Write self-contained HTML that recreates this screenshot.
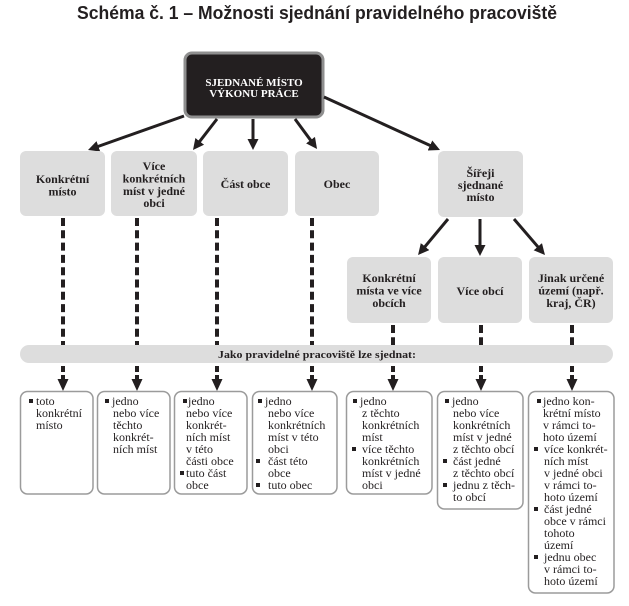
<!DOCTYPE html>
<html><head><meta charset="utf-8"><style>
html,body{margin:0;padding:0;background:#fff;}
svg{display:block;}
.t{font-family:"Liberation Serif",serif;fill:#231f20;}
.b{font-weight:bold;font-size:12px;text-anchor:middle;}
.r{font-size:12px;}
</style></head><body>
<svg width="629" height="606" viewBox="0 0 629 606" xmlns="http://www.w3.org/2000/svg">
<defs>
<marker id="ah" markerUnits="userSpaceOnUse" markerWidth="12" markerHeight="12" refX="2" refY="5.5" orient="auto">
<path d="M0,0 L11,5.5 L0,11 z" fill="#231f20"/>
</marker>
</defs>
<rect width="629" height="606" fill="#fff"/>
<text x="317" y="19" font-family="'Liberation Sans',sans-serif" font-weight="bold" font-size="18" text-anchor="middle" fill="#231f20" textLength="480" lengthAdjust="spacingAndGlyphs">Schéma č. 1 – Možnosti sjednání pravidelného pracoviště</text>

<!-- top box -->
<rect x="185" y="53" width="138" height="64" rx="7" fill="#231f20" stroke="#8f8f8f" stroke-width="3"/>
<text class="t" x="254" y="86" font-size="11" font-weight="bold" text-anchor="middle" fill="#fff" style="fill:#fff">SJEDNANÉ MÍSTO</text>
<text class="t" x="254" y="97" font-size="11" font-weight="bold" text-anchor="middle" style="fill:#fff">VÝKONU PRÁCE</text>

<!-- solid arrows -->
<g stroke="#231f20" stroke-width="3" marker-end="url(#ah)">
<line x1="184" y1="116" x2="96.5" y2="147"/>
<line x1="217" y1="119" x2="198.5" y2="142.9"/>
<line x1="253" y1="119" x2="253" y2="141"/>
<line x1="295" y1="119" x2="311.7" y2="141.7"/>
<line x1="324" y1="97" x2="431.8" y2="146.3"/>
<line x1="448" y1="219" x2="423.8" y2="248.1"/>
<line x1="480" y1="219" x2="480" y2="247"/>
<line x1="514" y1="219" x2="539.1" y2="248.2"/>
</g>

<!-- first row boxes -->
<g fill="#dddddd">
<rect x="20" y="151" width="85" height="65" rx="6"/>
<rect x="111" y="151" width="86" height="65" rx="6"/>
<rect x="203" y="151" width="85" height="65" rx="6"/>
<rect x="295" y="151" width="84" height="65" rx="6"/>
<rect x="438" y="151" width="85" height="66" rx="6"/>
<rect x="347" y="257" width="84" height="66" rx="6"/>
<rect x="438" y="257" width="84" height="66" rx="6"/>
<rect x="529" y="257" width="84" height="66" rx="6"/>
<rect x="20" y="345" width="593" height="18" rx="9"/>
</g>
<text class="t b" x="62.5" y="183">Konkrétní</text>
<text class="t b" x="62.5" y="195.5">místo</text>
<text class="t b" x="154" y="170">Více</text>
<text class="t b" x="154" y="182.5">konkrétních</text>
<text class="t b" x="154" y="195">míst v jedné</text>
<text class="t b" x="154" y="207">obci</text>
<text class="t b" x="245.5" y="188">Část obce</text>
<text class="t b" x="337" y="188">Obec</text>
<text class="t b" x="480.5" y="177">Šířeji</text>
<text class="t b" x="480.5" y="189">sjednané</text>
<text class="t b" x="480.5" y="201">místo</text>
<text class="t b" x="389" y="282">Konkrétní</text>
<text class="t b" x="389" y="294.5">místa ve více</text>
<text class="t b" x="389" y="307">obcích</text>
<text class="t b" x="480" y="295">Více obcí</text>
<text class="t b" x="571" y="282">Jinak určené</text>
<text class="t b" x="571" y="294.5">území (např.</text>
<text class="t b" x="571" y="307">kraj, ČR)</text>
<text class="t" x="317" y="358" font-size="11" font-weight="bold" text-anchor="middle" textLength="198" lengthAdjust="spacingAndGlyphs">Jako pravidelné pracoviště lze sjednat:</text>

<!-- dashed lines -->
<g stroke="#231f20" stroke-width="4" stroke-dasharray="8 4.3" fill="none">
<line x1="63" y1="218" x2="63" y2="345"/>
<line x1="137" y1="218" x2="137" y2="345"/>
<line x1="217" y1="218" x2="217" y2="345"/>
<line x1="312" y1="218" x2="312" y2="345"/>
<line x1="393" y1="325" x2="393" y2="345"/>
<line x1="481" y1="325" x2="481" y2="345"/>
<line x1="572" y1="325" x2="572" y2="345"/>
</g>
<g stroke="#231f20" stroke-width="4" stroke-dasharray="6 3" fill="none">
<line x1="63" y1="366" x2="63" y2="380"/>
<line x1="137" y1="366" x2="137" y2="380"/>
<line x1="217" y1="366" x2="217" y2="380"/>
<line x1="312" y1="366" x2="312" y2="380"/>
<line x1="393" y1="366" x2="393" y2="380"/>
<line x1="481" y1="366" x2="481" y2="380"/>
<line x1="572" y1="366" x2="572" y2="380"/>
</g>
<g fill="#231f20">
<polygon points="57.5,379 68.5,379 63,391"/>
<polygon points="131.5,379 142.5,379 137,391"/>
<polygon points="211.5,379 222.5,379 217,391"/>
<polygon points="306.5,379 317.5,379 312,391"/>
<polygon points="387.5,379 398.5,379 393,391"/>
<polygon points="475.5,379 486.5,379 481,391"/>
<polygon points="566.5,379 577.5,379 572,391"/>
</g>

<!-- bottom boxes -->
<g fill="#fff" stroke="#9b9b9b" stroke-width="1.5">
<rect x="20.5" y="391.5" width="72.5" height="102.5" rx="7"/>
<rect x="97.5" y="391.5" width="72.5" height="102.5" rx="7"/>
<rect x="174.5" y="391.5" width="72.5" height="102.5" rx="7"/>
<rect x="252.5" y="391.5" width="84.5" height="102.5" rx="7"/>
<rect x="346.5" y="391.5" width="85.5" height="102.5" rx="7"/>
<rect x="437.5" y="391.5" width="85.5" height="117.5" rx="7"/>
<rect x="528.5" y="391.5" width="85.5" height="201.5" rx="7"/>
</g>

<!-- bullets -->
<g fill="#231f20">
<rect x="29" y="399" width="4" height="4"/>
<rect x="105" y="399" width="4" height="4"/>
<rect x="183" y="399" width="4" height="4"/>
<rect x="180" y="471" width="4" height="4"/>
<rect x="258" y="399" width="4" height="4"/>
<rect x="256" y="459" width="4" height="4"/>
<rect x="256" y="483" width="4" height="4"/>
<rect x="353" y="399" width="4" height="4"/>
<rect x="352" y="447" width="4" height="4"/>
<rect x="445" y="399" width="4" height="4"/>
<rect x="443" y="459" width="4" height="4"/>
<rect x="443" y="483" width="4" height="4"/>
<rect x="537" y="399" width="4" height="4"/>
<rect x="534" y="447" width="4" height="4"/>
<rect x="534" y="507" width="4" height="4"/>
<rect x="534" y="555" width="4" height="4"/>
</g>

<g class="t r">
<text x="36" y="405">toto</text>
<text x="36" y="417">konkrétní</text>
<text x="36" y="429">místo</text>

<text x="112" y="405">jedno</text>
<text x="113" y="417">nebo více</text>
<text x="113" y="429">těchto</text>
<text x="113" y="441">konkrét-</text>
<text x="113" y="453">ních míst</text>

<text x="188" y="405">jedno</text>
<text x="186" y="417">nebo více</text>
<text x="186" y="429">konkrét-</text>
<text x="186" y="441">ních míst</text>
<text x="186" y="453">v této</text>
<text x="186" y="465">části obce</text>
<text x="186" y="477">tuto část</text>
<text x="186" y="489">obce</text>

<text x="265" y="405">jedno</text>
<text x="268" y="417">nebo více</text>
<text x="268" y="429">konkrétních</text>
<text x="268" y="441">míst v této</text>
<text x="268" y="453">obci</text>
<text x="268" y="465">část této</text>
<text x="268" y="477">obce</text>
<text x="268" y="489">tuto obec</text>

<text x="360" y="405">jedno</text>
<text x="362" y="417">z těchto</text>
<text x="362" y="429">konkrétních</text>
<text x="362" y="441">míst</text>
<text x="362" y="453">více těchto</text>
<text x="362" y="465">konkrétních</text>
<text x="362" y="477">míst v jedné</text>
<text x="362" y="489">obci</text>

<text x="452" y="405">jedno</text>
<text x="453" y="417">nebo více</text>
<text x="453" y="429">konkrétních</text>
<text x="453" y="441">míst v jedné</text>
<text x="453" y="453">z těchto obcí</text>
<text x="453" y="465">část jedné</text>
<text x="453" y="477">z těchto obcí</text>
<text x="453" y="489">jednu z těch-</text>
<text x="453" y="501">to obcí</text>

<text x="543" y="405">jedno kon-</text>
<text x="543" y="417">krétní místo</text>
<text x="543" y="429">v rámci to-</text>
<text x="543" y="441">hoto území</text>
<text x="544" y="453">více konkrét-</text>
<text x="544" y="465">ních míst</text>
<text x="544" y="477">v jedné obci</text>
<text x="544" y="489">v rámci to-</text>
<text x="544" y="501">hoto území</text>
<text x="544" y="513">část jedné</text>
<text x="544" y="525">obce v rámci</text>
<text x="544" y="537">tohoto</text>
<text x="544" y="549">území</text>
<text x="544" y="561">jednu obec</text>
<text x="544" y="573">v rámci to-</text>
<text x="544" y="585">hoto území</text>
</g>
</svg>
</body></html>
